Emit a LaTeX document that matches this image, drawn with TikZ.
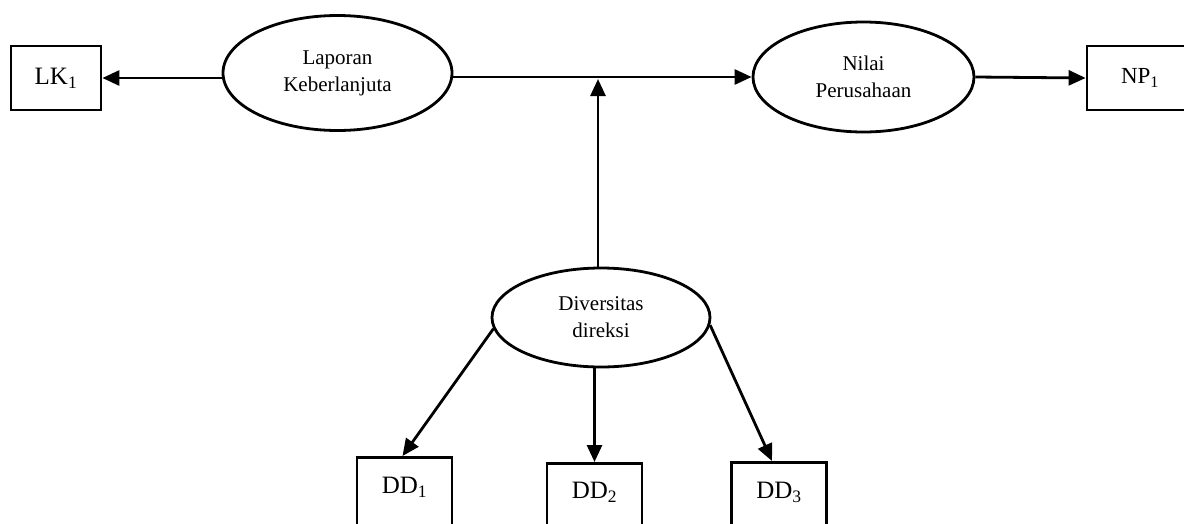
\documentclass[tikz,border=0pt]{standalone}
\usepackage{fontspec}
\setmainfont{Liberation Serif}
\usetikzlibrary{shapes.geometric,arrows.meta}
\begin{document}
\begin{tikzpicture}[x=1pt,y=-1pt,
  conn/.style={line width=2.8pt,-{Triangle[length=17pt,width=15pt]}},
  ovalnode/.style={draw,ellipse,inner sep=0pt,align=center,line width=2.8pt,
    font=\fontsize{21}{27}\selectfont},
  boxnode/.style={draw,rectangle,inner sep=0pt,line width=2.8pt,
    font=\fontsize{25}{30}\selectfont},
  ddbox/.style={boxnode,minimum width=95pt,text depth=60pt}
]
\useasboundingbox (0,0) rectangle (1184,523);
\clip (0,0) rectangle (1184,523);

\node[ovalnode,minimum width=229pt,minimum height=115pt] (lap) at (337.5,73) {Laporan\\Keberlanjuta};
\node[ovalnode,minimum width=221pt,minimum height=110pt] (nil) at (863.5,77) {Nilai\\Perusahaan};
\node[ovalnode,minimum width=218pt,minimum height=99pt] (div) at (601,317.5) {Diversitas\\direksi};

\node[boxnode,minimum width=90pt,minimum height=64pt] (LK) at (56,78) {LK\textsubscript{1}};
\node[boxnode,minimum width=106pt,minimum height=64pt,font=\fontsize{23}{27}\selectfont] (NP) at (1140,78) {NP\textsubscript{1}};

\node[ddbox,text height=36pt,anchor=north] (DD1) at (404.5,456) {DD\textsubscript{1}};
\node[ddbox,text height=35pt,anchor=north] (DD2) at (594.5,462) {DD\textsubscript{2}};
\node[ddbox,text height=36pt,anchor=north] (DD3) at (779,461) {DD\textsubscript{3}};

\coordinate (jt) at (598,79);

\draw[conn] (lap.west |- LK.east) -- (LK.east);
\draw[conn] (lap.east |- nil.west) -- (nil.west);
\draw[conn] (nil.east) -- (NP.west);
\draw[conn] (div.north -| jt) -- (jt);
\draw[conn] (div.186) -- ([xshift=-2pt]DD1.north);
\draw[conn] (div.south -| DD2.north) -- (DD2.north);
\draw[conn] (div.-4) -- ([xshift=-7pt]DD3.north);
\end{tikzpicture}
\end{document}
